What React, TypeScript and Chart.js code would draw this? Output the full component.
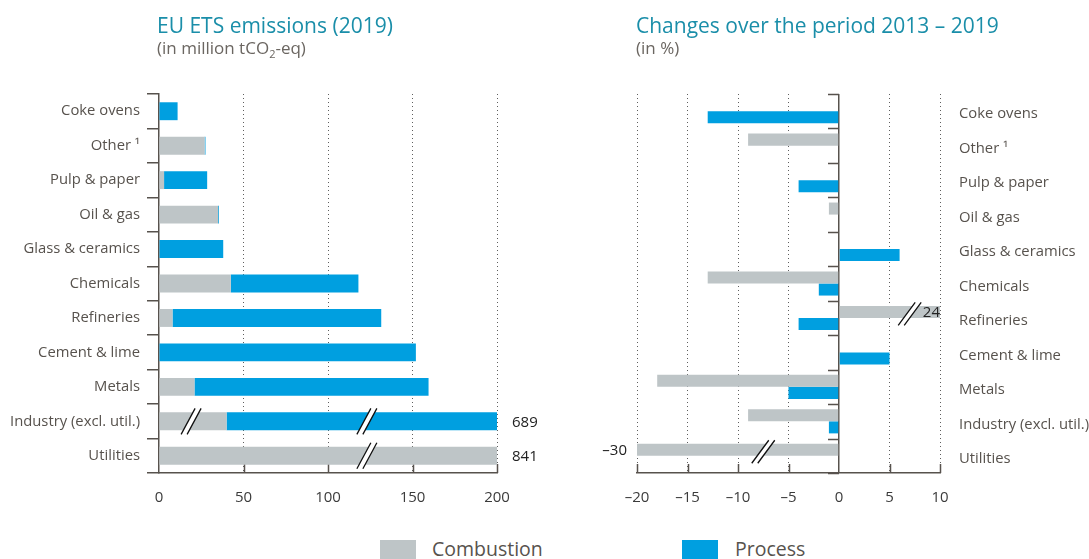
import React, { useEffect, useRef } from 'react';
import { Chart, registerables } from 'chart.js';

Chart.register(...registerables);

// ---------- data ----------
const categories = [
  'Coke ovens',
  'Other \u00b9',
  'Pulp & paper',
  'Oil & gas',
  'Glass & ceramics',
  'Chemicals',
  'Refineries',
  'Cement & lime',
  'Metals',
  'Industry (excl. util.)',
  'Utilities',
];

// EU ETS emissions 2019 (million tCO2-eq)
const emissionsCombustion = [0, 27, 3, 35, 0, 42.5, 8, 0, 21, 40, 841];
const emissionsProcess = [11, 0.5, 25.5, 0.5, 38, 75.5, 123.5, 152, 138.5, 649, 0];
const emissionsMin = 0;
const emissionsMax = 200;
const emissionsStep = 50;

// Changes 2013 - 2019 (%)
const changeCombustion = [null, -9, null, -1, null, -13, 24, null, -18, -9, -30];
const changeProcess = [-13, null, -4, null, 6, -2, -4, 5, -5, -1, null];
const changeMin = -20;
const changeMax = 10;
const changeStep = 5;

// axis-break markers (category, value on the axis where the "//" sits, dataset index)
const emissionsBreaks = [
  { category: 'Industry (excl. util.)', value: 19, dataset: 0 },
  { category: 'Industry (excl. util.)', value: 123, dataset: 1 },
  { category: 'Utilities', value: 123, dataset: 0 },
];
const changeBreaks = [
  { category: 'Refineries', value: 7, dataset: 0 },
  { category: 'Utilities', value: -7.5, dataset: 0 },
];

const seriesNames = ['Combustion', 'Process'];

// ---------- style ----------
const GREY = '#bec5c7';
const BLUE = '#009fe0';
const AXIS = '#57524d';
const DOT = '#5e5e5e';
const LABEL = '#57524d';
const TICK = '#3b3b3b';
const VALUE = '#222222';
const TITLE = '#1a8ea9';
const FONT = "'Open Sans', sans-serif";

const fmt = (v: number) => String(v).replace('-', '\u2013');

function drawBreak(ctx: CanvasRenderingContext2D, x: number, yc: number, h: number, dx: number, gap: number) {
  const x0 = x - gap / 2;
  ctx.save();
  ctx.fillStyle = '#ffffff';
  ctx.beginPath();
  ctx.moveTo(x0 - dx / 2, yc + h / 2);
  ctx.lineTo(x0 + dx / 2, yc - h / 2);
  ctx.lineTo(x0 + gap + dx / 2, yc - h / 2);
  ctx.lineTo(x0 + gap - dx / 2, yc + h / 2);
  ctx.closePath();
  ctx.fill();
  ctx.strokeStyle = '#111111';
  ctx.lineWidth = 1.3;
  ctx.beginPath();
  ctx.moveTo(x0 - dx / 2, yc + h / 2);
  ctx.lineTo(x0 + dx / 2, yc - h / 2);
  ctx.moveTo(x0 + gap - dx / 2, yc + h / 2);
  ctx.lineTo(x0 + gap + dx / 2, yc - h / 2);
  ctx.stroke();
  ctx.restore();
}

function innerXTicks(chart: any, skipZero: boolean) {
  const ctx = chart.ctx;
  const xs = chart.scales.x;
  const bottom = chart.chartArea.bottom;
  ctx.save();
  ctx.strokeStyle = AXIS;
  ctx.lineWidth = 1.5;
  ctx.beginPath();
  xs.ticks.forEach((t: any) => {
    if (skipZero && t.value === 0) return;
    const x = Math.round(xs.getPixelForValue(t.value)) + 0.5;
    ctx.moveTo(x, bottom);
    ctx.lineTo(x, bottom - 9);
  });
  ctx.stroke();
  ctx.restore();
}

const emissionsPlugin = {
  id: 'emissionsDecor',
  beforeDatasetsDraw(chart: any) {
    innerXTicks(chart, true);
  },
  afterDatasetsDraw(chart: any) {
    const ctx = chart.ctx;
    const xs = chart.scales.x;
    const meta = chart.getDatasetMeta(1);
    ctx.save();
    ctx.font = `15px ${FONT}`;
    ctx.fillStyle = VALUE;
    ctx.textAlign = 'left';
    ctx.textBaseline = 'middle';
    categories.forEach((_, i) => {
      const total = emissionsCombustion[i] + emissionsProcess[i];
      if (total > xs.max) {
        ctx.fillText(String(total), chart.chartArea.right + 15, meta.data[i].y + 1);
      }
    });
    ctx.restore();
    emissionsBreaks.forEach((b) => {
      const idx = categories.indexOf(b.category);
      const el = chart.getDatasetMeta(b.dataset).data[idx];
      drawBreak(ctx, xs.getPixelForValue(b.value), el.y, 26, 14, 6);
    });
  },
};

const changePlugin = {
  id: 'changeDecor',
  beforeDatasetsDraw(chart: any) {
    innerXTicks(chart, true);
  },
  afterDatasetsDraw(chart: any) {
    const ctx = chart.ctx;
    const xs = chart.scales.x;
    const ys = chart.scales.y;
    const x0 = Math.round(xs.getPixelForValue(0));
    ctx.save();
    ctx.strokeStyle = AXIS;
    ctx.lineWidth = 1.5;
    ctx.beginPath();
    for (let i = 0; i <= categories.length; i++) {
      const y = Math.round(ys.getPixelForValue(i - 0.5)) + 0.5;
      ctx.moveTo(x0 - 11, y);
      ctx.lineTo(x0, y);
    }
    ctx.stroke();
    ctx.restore();

    [changeCombustion, changeProcess].forEach((series, ds) => {
      const meta = chart.getDatasetMeta(ds);
      series.forEach((v, i) => {
        if (v === null) return;
        const el = meta.data[i];
        ctx.save();
        ctx.font = `15px ${FONT}`;
        ctx.fillStyle = VALUE;
        ctx.textBaseline = 'middle';
        if (v > xs.max) {
          ctx.textAlign = 'right';
          ctx.fillText(fmt(v), chart.chartArea.right, el.y + 1);
        } else if (v < xs.min) {
          ctx.textAlign = 'right';
          ctx.fillText(fmt(v), chart.chartArea.left - 10, el.y + 1);
        }
        ctx.restore();
      });
    });

    changeBreaks.forEach((b) => {
      const idx = categories.indexOf(b.category);
      const el = chart.getDatasetMeta(b.dataset).data[idx];
      drawBreak(ctx, xs.getPixelForValue(b.value), el.y + 2, 23, 17, 6);
    });
  },
};

function EmissionsChart() {
  const ref = useRef<HTMLCanvasElement | null>(null);
  useEffect(() => {
    if (!ref.current) return;
    const chart = new Chart(ref.current, {
      type: 'bar',
      data: {
        labels: categories,
        datasets: [
          { label: seriesNames[0], data: emissionsCombustion, backgroundColor: GREY, clip: 0 } as any,
          { label: seriesNames[1], data: emissionsProcess, backgroundColor: BLUE, clip: 0 } as any,
        ],
      },
      options: {
        indexAxis: 'y',
        animation: false,
        responsive: false,
        events: [],
        layout: { padding: { top: 94, right: 83, bottom: 0, left: 0 } },
        datasets: { bar: { categoryPercentage: 0.52, barPercentage: 1 } },
        plugins: { legend: { display: false }, tooltip: { enabled: false }, title: { display: false } },
        scales: {
          x: {
            type: 'linear',
            stacked: true,
            min: emissionsMin,
            max: emissionsMax,
            ticks: { stepSize: emissionsStep, padding: 16, color: TICK, font: { family: FONT, size: 15 } },
            grid: {
              color: (c: any) => (c.tick && c.tick.value === 0 ? 'rgba(0,0,0,0)' : DOT),
              lineWidth: 1,
              drawTicks: false,
            },
            border: { display: true, color: AXIS, width: 1.5, dash: [1, 3] },
            afterFit: (s: any) => { s.height = 57; },
          },
          y: {
            type: 'category',
            stacked: true,
            ticks: { padding: 7, color: LABEL, font: { family: FONT, size: 14.8 } },
            grid: { drawOnChartArea: false, drawTicks: true, tickLength: 12, color: AXIS, lineWidth: 1.5, offset: true },
            border: { display: true, color: AXIS, width: 1.5 },
            afterFit: (s: any) => { s.width = 159; },
          },
        },
      } as any,
      plugins: [emissionsPlugin],
    });
    return () => chart.destroy();
  }, []);
  return <canvas ref={ref} width={580} height={530} style={{ position: 'absolute', left: 0, top: 0 }} />;
}

function ChangeChart() {
  const ref = useRef<HTMLCanvasElement | null>(null);
  useEffect(() => {
    if (!ref.current) return;
    const chart = new Chart(ref.current, {
      type: 'bar',
      data: {
        labels: categories,
        datasets: [
          { label: seriesNames[0], data: changeCombustion, backgroundColor: GREY, clip: 0 } as any,
          { label: seriesNames[1], data: changeProcess, backgroundColor: BLUE, clip: 0 } as any,
        ],
      },
      options: {
        indexAxis: 'y',
        animation: false,
        responsive: false,
        events: [],
        layout: { padding: { top: 94, right: 0, bottom: 0, left: 57 } },
        datasets: { bar: { categoryPercentage: 0.7, barPercentage: 1 } },
        plugins: { legend: { display: false }, tooltip: { enabled: false }, title: { display: false } },
        scales: {
          x: {
            type: 'linear',
            min: changeMin,
            max: changeMax,
            ticks: {
              stepSize: changeStep,
              padding: 16,
              color: TICK,
              font: { family: FONT, size: 15 },
              callback: (v: any) => fmt(Number(v)),
            },
            grid: {
              color: (c: any) => (c.tick && c.tick.value === 0 ? AXIS : DOT),
              lineWidth: (c: any) => (c.tick && c.tick.value === 0 ? 1.5 : 1),
              drawTicks: false,
            },
            border: {
              display: true,
              color: AXIS,
              width: 1.5,
              dash: (c: any) => (c.tick && c.tick.value === 0 ? [] : [1, 3]),
            },
            afterFit: (s: any) => { s.height = 57; },
          },
          y: {
            type: 'category',
            position: 'right',
            ticks: { padding: 19, labelOffset: 3, color: LABEL, font: { family: FONT, size: 14.8 } },
            grid: { display: false, drawTicks: false },
            border: { display: false },
            afterFit: (s: any) => { s.width = 149; },
          },
        },
      } as any,
      plugins: [changePlugin],
    });
    return () => chart.destroy();
  }, []);
  return <canvas ref={ref} width={509} height={530} style={{ position: 'absolute', left: 580, top: 0 }} />;
}

export default function App() {
  const titleStyle: React.CSSProperties = {
    position: 'absolute',
    fontSize: 21,
    lineHeight: '24px',
    color: TITLE,
    whiteSpace: 'nowrap',
  };
  const subStyle: React.CSSProperties = {
    position: 'absolute',
    fontSize: 17,
    lineHeight: '20px',
    color: '#6b6661',
    whiteSpace: 'nowrap',
  };
  const legendText: React.CSSProperties = {
    position: 'absolute',
    top: 537,
    fontSize: 19.5,
    lineHeight: '24px',
    color: '#57524d',
    whiteSpace: 'nowrap',
  };
  return (
    <div
      style={{
        position: 'absolute',
        left: 0,
        top: 0,
        width: 1089,
        height: 559,
        overflow: 'hidden',
        background: '#ffffff',
        fontFamily: FONT,
      }}
    >
      <EmissionsChart />
      <ChangeChart />
      <div style={{ ...titleStyle, left: 157, top: 13 }}>EU ETS emissions (2019)</div>
      <div style={{ ...subStyle, left: 157, top: 38 }}>
        (in million tCO<span style={{ fontSize: 11, position: 'relative', top: 4 }}>2</span>-eq)
      </div>
      <div style={{ ...titleStyle, left: 636, top: 13 }}>Changes over the period 2013 – 2019</div>
      <div style={{ ...subStyle, left: 636, top: 38 }}>(in %)</div>

      <div style={{ position: 'absolute', left: 380, top: 540, width: 36, height: 19, background: GREY }} />
      <div style={{ ...legendText, left: 432 }}>{seriesNames[0]}</div>
      <div style={{ position: 'absolute', left: 682, top: 540, width: 36, height: 19, background: BLUE }} />
      <div style={{ ...legendText, left: 735 }}>{seriesNames[1]}</div>
    </div>
  );
}
